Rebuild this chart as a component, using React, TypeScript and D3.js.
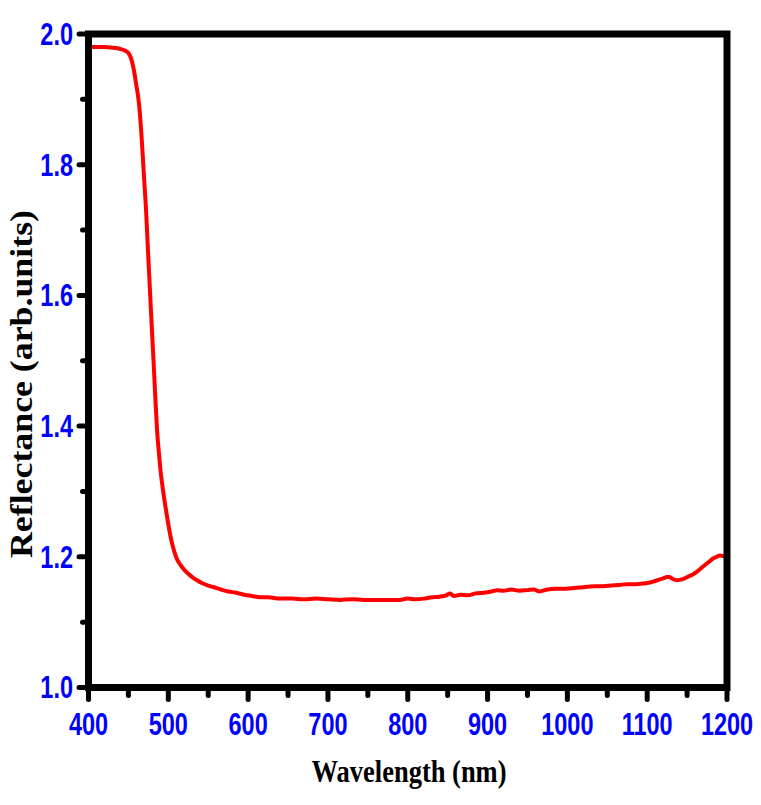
import React from "react";
import * as d3 from "d3";

const wavelengths = [400,410,420,430,440,445,448,450,453,456,458,460,462,464,466,468,470,472,474,476,478,480,482,484,486,488,490,493,496,499,502,505,508,511,515,520,525,530,536,542,550,558,566,575,585,595,605,615,625,640,655,670,685,700,715,730,745,760,775,790,800,810,820,830,840,848,853,858,866,875,885,895,905,912,920,930,940,950,958,965,975,985,995,1005,1015,1025,1035,1045,1055,1065,1075,1085,1095,1100,1105,1110,1115,1120,1125,1128,1132,1137,1142,1147,1152,1157,1162,1167,1172,1177,1182,1187,1191,1195,1198,1200];
const reflectance = [1.981,1.980,1.980,1.979,1.977,1.975,1.973,1.971,1.964,1.950,1.937,1.921,1.906,1.884,1.852,1.813,1.772,1.733,1.682,1.632,1.583,1.535,1.487,1.437,1.392,1.362,1.335,1.305,1.280,1.257,1.236,1.219,1.206,1.196,1.188,1.180,1.174,1.169,1.164,1.160,1.156,1.153,1.150,1.147,1.145,1.142,1.140,1.138,1.138,1.136,1.136,1.135,1.136,1.135,1.134,1.135,1.134,1.134,1.134,1.134,1.136,1.135,1.136,1.138,1.139,1.141,1.144,1.140,1.142,1.141,1.144,1.145,1.147,1.149,1.148,1.150,1.148,1.149,1.150,1.147,1.150,1.151,1.151,1.152,1.153,1.154,1.155,1.155,1.156,1.157,1.158,1.158,1.159,1.160,1.161,1.163,1.165,1.167,1.169,1.169,1.166,1.164,1.165,1.167,1.170,1.173,1.177,1.182,1.187,1.192,1.197,1.200,1.202,1.201,1.200,1.198];

const xMajorTicks = [400,500,600,700,800,900,1000,1100,1200];
const xMinorTicks = [450,550,650,750,850,950,1050,1150];
const yMajorTicks = [1.0,1.2,1.4,1.6,1.8,2.0];
const yMinorTicks = [1.1,1.3,1.5,1.7,1.9];

const xTitle = "Wavelength (nm)";
const yTitle = "Reflectance (arb.units)";

export default function App() {
  const W = 761, H = 805;
  const left = 88.5, right = 727, top = 34, bottom = 687.5;
  const x = d3.scaleLinear().domain([400, 1200]).range([left, right]);
  const y = d3.scaleLinear().domain([1.0, 2.0]).range([bottom, top]);
  const data = wavelengths.map((w, i) => [w, reflectance[i]] as [number, number]);
  const line = d3.line<[number, number]>().x(d => x(d[0])).y(d => y(d[1])).curve(d3.curveMonotoneX);
  const tickFont = "'Liberation Sans', Arial, sans-serif";
  const titleFont = "'Liberation Serif', 'Times New Roman', serif";
  const sx = 0.77;
  return (
    <svg width={W} height={H} style={{ position: "absolute", left: 0, top: 0, background: "#fff" }}>
      <rect x={0} y={0} width={W} height={H} fill="#fff" />
      <path d={line(data) || ""} fill="none" stroke="#ff0000" strokeWidth={4} strokeLinejoin="round" />
      <rect x={left} y={top} width={right - left} height={bottom - top} fill="none" stroke="#000" strokeWidth={7} />
      {xMajorTicks.map(t => (
        <line key={"xm" + t} x1={x(t)} x2={x(t)} y1={bottom} y2={bottom + 12} stroke="#000" strokeWidth={5} strokeLinecap="round" />
      ))}
      {xMinorTicks.map(t => (
        <line key={"xn" + t} x1={x(t)} x2={x(t)} y1={bottom} y2={bottom + 8} stroke="#000" strokeWidth={5} strokeLinecap="round" />
      ))}
      {yMajorTicks.map(t => (
        <line key={"ym" + t} x1={left} x2={left - 9.5} y1={y(t)} y2={y(t)} stroke="#000" strokeWidth={5} strokeLinecap="round" />
      ))}
      {yMinorTicks.map(t => (
        <line key={"yn" + t} x1={left} x2={left - 6} y1={y(t)} y2={y(t)} stroke="#000" strokeWidth={5} strokeLinecap="round" />
      ))}
      {xMajorTicks.map(t => (
        <text key={"xl" + t} transform={`translate(${x(t)},735) scale(${sx},1)`} textAnchor="middle" fill="#0000ff" fontFamily={tickFont} fontWeight="bold" fontSize={30.5}>{t}</text>
      ))}
      {yMajorTicks.map(t => (
        <text key={"yl" + t} transform={`translate(73,${y(t)}) scale(${sx},1)`} dy="0.36em" textAnchor="end" fill="#0000ff" fontFamily={tickFont} fontWeight="bold" fontSize={30.5}>{d3.format(".1f")(t)}</text>
      ))}
      <text x={409} y={782} textAnchor="middle" fontFamily={titleFont} fontWeight="bold" fontSize={32} textLength={195} lengthAdjust="spacingAndGlyphs" fill="#000">{xTitle}</text>
      <text transform={`translate(32,384) rotate(-90)`} textAnchor="middle" fontFamily={titleFont} fontWeight="bold" fontSize={31} textLength={348} lengthAdjust="spacingAndGlyphs" fill="#000">{yTitle}</text>
    </svg>
  );
}
